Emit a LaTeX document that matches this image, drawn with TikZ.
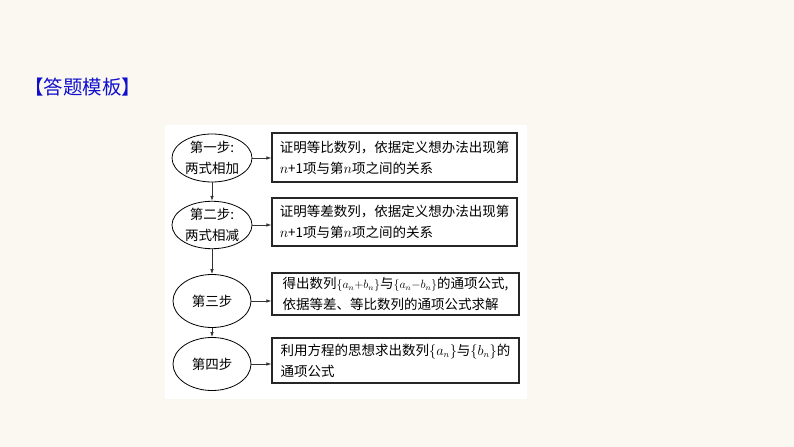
\documentclass[tikz,border=0pt]{standalone}
\usepackage{fontspec}
\newfontfamily\cjk{Noto Sans CJK SC}
\usetikzlibrary{arrows.meta,shapes.geometric}
\definecolor{bgc}{HTML}{FBF8F2}
\definecolor{titleblue}{HTML}{1010CC}
\newcommand\mth[1]{{\fontsize{13.5bp}{21bp}\selectfont$#1$}}
\newcommand\mths[1]{{\fontsize{12pt}{21bp}\selectfont$#1$}}
\tikzset{
  stepell/.style={ellipse,draw=black,line width=0.8bp,inner sep=0pt,
    minimum width=80bp,minimum height=48bp,align=center,
    font=\cjk\fontsize{13.5bp}{21bp}\selectfont},
  descbox/.style={rectangle,draw=black!85,line width=1.1bp,inner sep=0pt,
    minimum height=48bp,align=left,
    font=\cjk\fontsize{13.5bp}{21bp}\selectfont},
  conn/.style={-{Latex[length=5bp,width=3.5bp]},line width=0.7bp,draw=black!80}
}
\begin{document}
\begin{tikzpicture}[x=1bp,y=-1bp]
\fill[bgc] (0,0) rectangle (794,447);
\fill[white] (165,125) rectangle (527,399);
\useasboundingbox (0,0) rectangle (794,447);
\node[anchor=west,text=titleblue,font=\cjk\fontsize{19.5bp}{22bp}\selectfont,inner sep=0pt] (title) at (24,87) {【答题模板】};

\node[stepell] (e1) at (212,158) {第一步:\\两式相加};
\node[stepell,minimum height=46bp] (e2) at (212,225) {第二步:\\两式相减};
\node[stepell,minimum width=78bp,minimum height=53bp] (e3) at (212,301) {第三步};
\node[stepell,minimum width=78bp,minimum height=53bp] (e4) at (212,364) {第四步};

\node[descbox,minimum width=245bp,minimum height=49bp] (b1) at (394.5,157.5) {证明等比数列，依据定义想办法出现第\\\mth{n}+1项与第\mth{n}项之间的关系};
\node[descbox,minimum width=245bp,minimum height=48bp] (b2) at (394.5,222) {证明等差数列，依据定义想办法出现第\\\mth{n}+1项与第\mth{n}项之间的关系};
\node[descbox,minimum width=247bp,minimum height=42bp] (b3) at (395.5,294) {得出数列\mths{\{a_n{+}b_n\}}与\mths{\{a_n{-}b_n\}}的通项公式,\\依据等差、等比数列的通项公式求解};
\node[descbox,minimum width=247bp,minimum height=45bp] (b4) at (395.5,360.5) {利用方程的思想求出数列\mth{\{a_n\}}与\mth{\{b_n\}}的\\通项公式};

\draw[conn] (e1.east) -- (e1.east -| b1.west);
\draw[conn] (e2.east) -- (e2.east -| b2.west);
\draw[conn] (e3.east) -- (e3.east -| b3.west);
\draw[conn] (e4.east) -- (e4.east -| b4.west);
\draw[conn] (e1.south) -- (e2.north);
\draw[conn] (e2.south) -- (e3.north);
\draw[conn] (e3.south) -- (e4.north);
\end{tikzpicture}
\end{document}
